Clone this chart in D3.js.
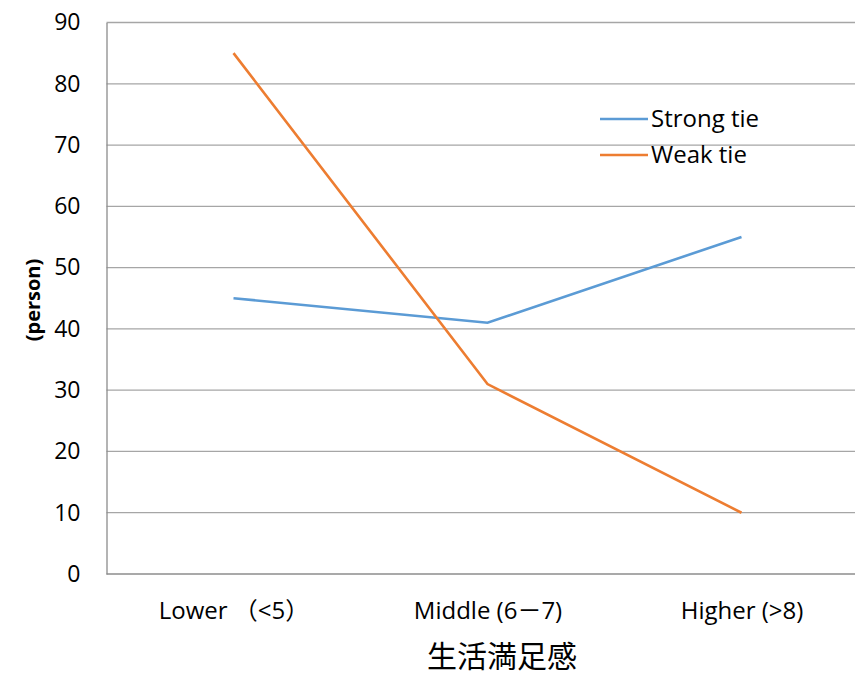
<!DOCTYPE html>
<html><head><meta charset="utf-8">
<script src="https://cdn.jsdelivr.net/npm/d3@7"></script>
<style>body{margin:0;background:#fff}svg{display:block}</style>
</head><body>
<svg id="c" width="855" height="674"></svg>
<script>
const categories = ["Lower （<5）", "Middle (6－7)", "Higher (>8)"];
const strongTie = [45, 41, 55];
const weakTie = [85, 31, 10];
const yTicks = [0, 10, 20, 30, 40, 50, 60, 70, 80, 90];
const seriesNames = ["Strong tie", "Weak tie"];
const seriesColors = ["#5B9BD5", "#ED7D31"];

(function () {
const svg = d3.select("#c");
const font = "'Open Sans', 'Noto Sans CJK JP', sans-serif";
const mLeft = 106.5, mRight = 868.5, mTop = 22.5, mBottom = 574;
const x = d3.scalePoint().domain(categories).range([mLeft, mRight]).padding(0.5);
const y = d3.scaleLinear().domain([0, 90]).range([mBottom, mTop]);

// gridlines
svg.append("g").selectAll("line").data(yTicks.filter(d => d > 0)).join("line")
  .attr("x1", mLeft).attr("x2", 855).attr("y1", d => y(d)).attr("y2", d => y(d))
  .attr("stroke", "#a6a6a6").attr("stroke-width", 1.3);

// axes
const yAxis = svg.append("g").attr("transform", `translate(${mLeft},0)`)
  .call(d3.axisLeft(y).tickValues(yTicks).tickSize(0).tickPadding(26));
yAxis.select(".domain").attr("stroke", "#8c8c8c").attr("stroke-width", 1.3);
yAxis.selectAll("text").attr("font-family", font).attr("font-size", 23).attr("fill", "#000");

const xAxis = svg.append("g").attr("transform", `translate(0,${mBottom})`)
  .call(d3.axisBottom(x).tickSize(0).tickPadding(28));
xAxis.select(".domain").attr("d", `M${mLeft},0H855`).attr("stroke", "#8c8c8c").attr("stroke-width", 1.3);
xAxis.selectAll("text").attr("font-family", font).attr("font-size", 24).attr("fill", "#000");

// lines
const line = d3.line().x((d, i) => x(categories[i])).y(d => y(d));
[strongTie, weakTie].forEach((s, i) => {
  svg.append("path").datum(s).attr("d", line).attr("fill", "none")
    .attr("stroke", seriesColors[i]).attr("stroke-width", 2.6);
});

// legend
const lg = svg.append("g");
seriesNames.forEach((n, i) => {
  const ly = 119 + i * 36;
  lg.append("line").attr("x1", 600).attr("x2", 648).attr("y1", ly).attr("y2", ly)
    .attr("stroke", seriesColors[i]).attr("stroke-width", 2.6);
  lg.append("text").attr("x", 651).attr("y", ly).attr("dy", "0.35em")
    .attr("font-family", font).attr("font-size", 24).text(n);
});

// axis titles
svg.append("text").attr("transform", "translate(33,300) rotate(-90)")
  .attr("text-anchor", "middle").attr("dy", "0.35em")
  .attr("font-family", font).attr("font-weight", "bold").attr("font-size", 20).text("(person)");
svg.append("text").attr("x", 502).attr("y", 656).attr("dy", "0.35em").attr("text-anchor", "middle")
  .attr("font-family", "'Noto Sans CJK JP', sans-serif").attr("font-size", 30).text("生活満足感");
})();
</script>
</body></html>
